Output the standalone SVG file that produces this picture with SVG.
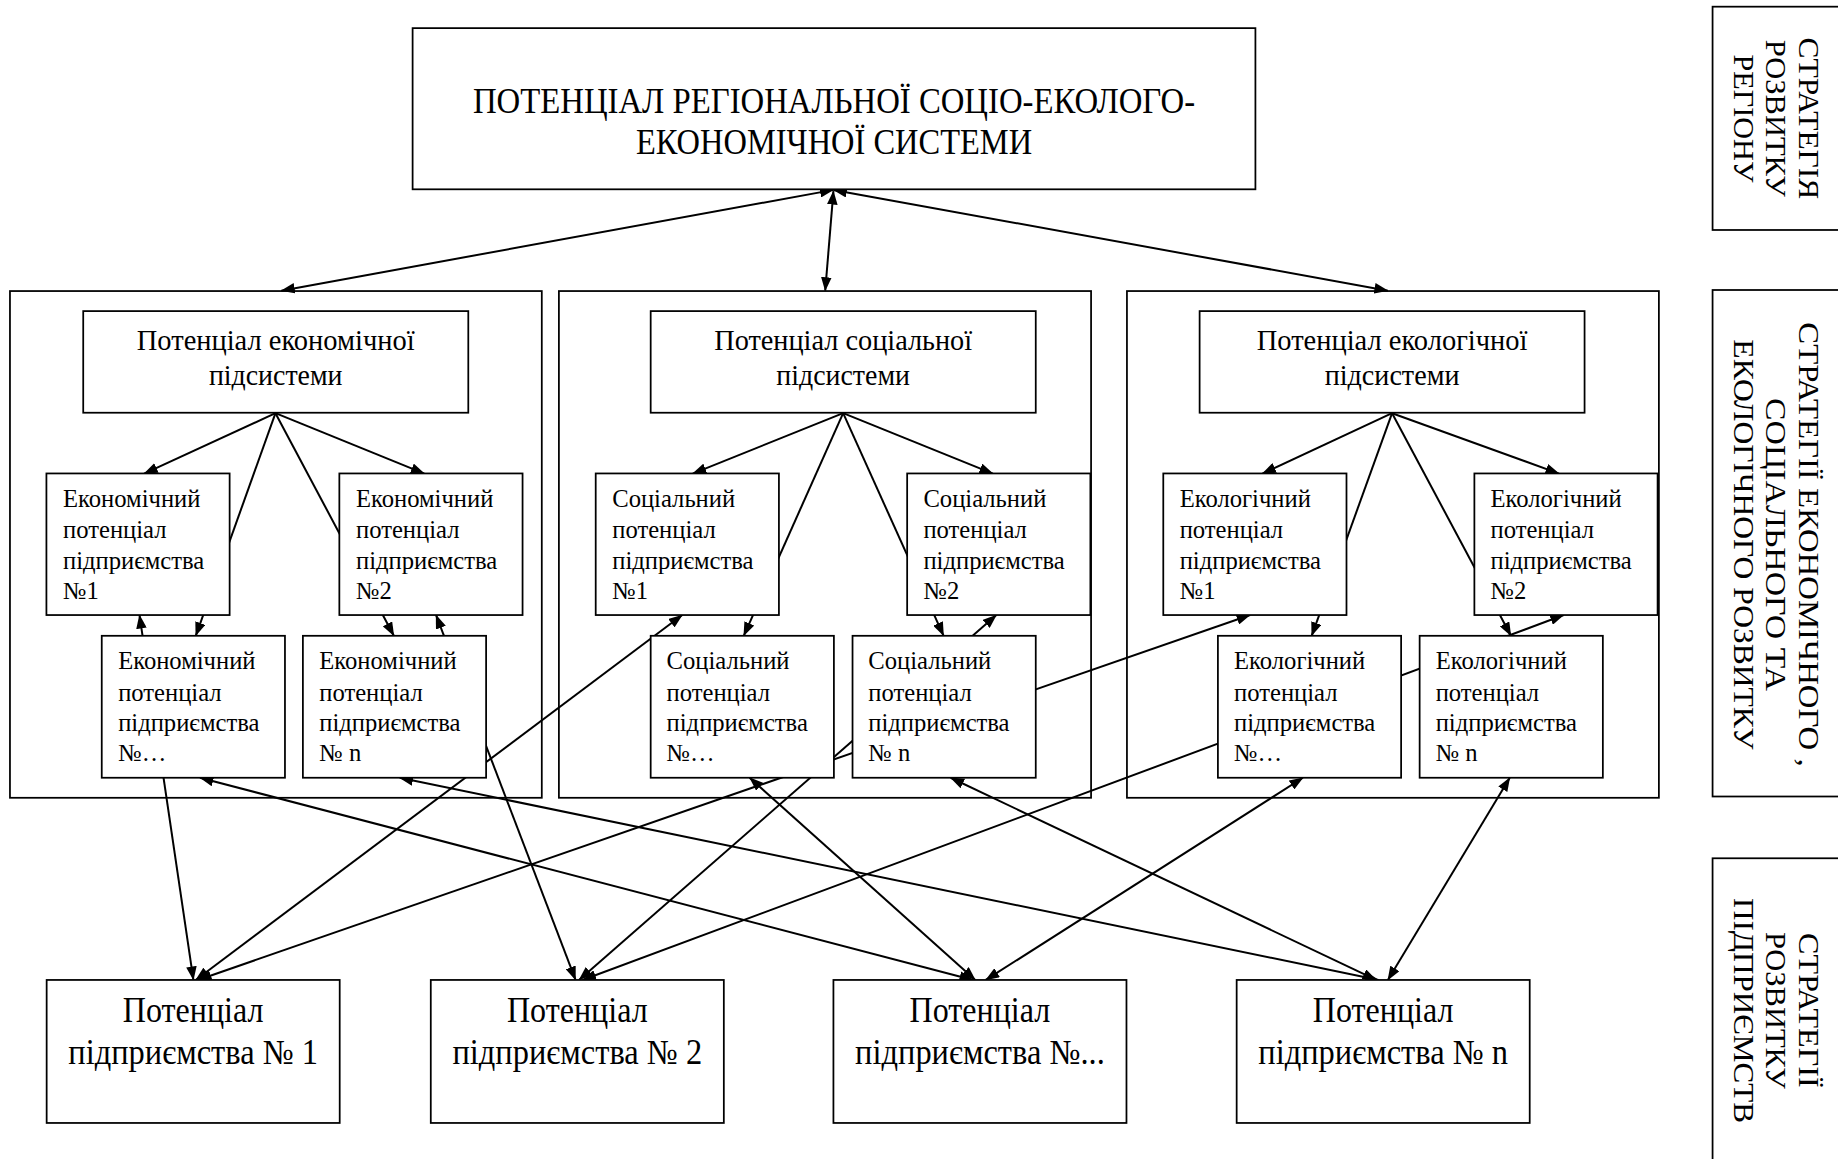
<svg xmlns="http://www.w3.org/2000/svg" width="1838" height="1159" viewBox="0 0 1838 1159">
<defs>
<style>
.frame{fill:none;stroke:#000;stroke-width:1.5}
.box{fill:#fff;stroke:#000;stroke-width:1.5}
.c line{fill:none;stroke:#000;stroke-width:1.7}
.a1{marker-end:url(#ah)}
.a2{marker-start:url(#ah);marker-end:url(#ah)}
text{font-family:"Liberation Serif","Times New Roman",serif;fill:#000}
.sm{font-size:21px}
.sub{font-size:25px;text-anchor:middle}
.big{font-size:30px;text-anchor:middle}
.title{font-size:30px;text-anchor:middle}
.st{font-size:25px;text-anchor:middle}
</style>
<marker id="ah" viewBox="0 0 12 9" refX="11.5" refY="4.5" markerWidth="12" markerHeight="9" markerUnits="userSpaceOnUse" orient="auto-start-reverse"><path d="M0,0 L12,4.5 L0,9 z" fill="#000"/></marker>
</defs>
<rect width="1838" height="1159" fill="#fff"/>
<g transform="scale(1.17219)">

<g id="strategy-region">
<rect class="frame" x="1461" y="5.7" width="130" height="190.5"/>
<text class="st" transform="translate(1535,101) rotate(90)" textLength="138" lengthAdjust="spacingAndGlyphs">СТРАТЕГІЯ</text>
<text class="st" transform="translate(1507,101) rotate(90)" textLength="134" lengthAdjust="spacingAndGlyphs">РОЗВИТКУ</text>
<text class="st" transform="translate(1479,101) rotate(90)" textLength="109" lengthAdjust="spacingAndGlyphs">РЕГІОНУ</text>
</g>
<g id="strategy-subsystems">
<rect class="frame" x="1461" y="247.4" width="130" height="432.1"/>
<text class="st" transform="translate(1535,464.5) rotate(90)" textLength="379" lengthAdjust="spacingAndGlyphs">СТРАТЕГІЇ ЕКОНОМІЧНОГО ,</text>
<text class="st" transform="translate(1507,464.5) rotate(90)" textLength="250" lengthAdjust="spacingAndGlyphs">СОЦІАЛЬНОГО ТА</text>
<text class="st" transform="translate(1479,464.5) rotate(90)" textLength="350" lengthAdjust="spacingAndGlyphs">ЕКОЛОГІЧНОГО РОЗВИТКУ</text>
</g>
<g id="strategy-enterprises">
<rect class="frame" x="1461" y="732.2" width="130" height="280"/>
<text class="st" transform="translate(1535,862) rotate(90)" textLength="132" lengthAdjust="spacingAndGlyphs">СТРАТЕГІЇ</text>
<text class="st" transform="translate(1507,862) rotate(90)" textLength="134" lengthAdjust="spacingAndGlyphs">РОЗВИТКУ</text>
<text class="st" transform="translate(1479,862) rotate(90)" textLength="192" lengthAdjust="spacingAndGlyphs">ПІДПРИЄМСТВ</text>
</g>

<g id="section-econ"><rect class="frame" x="8.5" y="248.3" width="453.7" height="432.3"/></g>
<g id="section-soc"><rect class="frame" x="476.8" y="248.3" width="454" height="432.3"/></g>
<g id="section-eco"><rect class="frame" x="961.4" y="248.3" width="453.8" height="432.3"/></g>

<g id="connectors" class="c">
<line class="a2" x1="711" y1="162" x2="240" y2="248"/>
<line class="a2" x1="711" y1="163" x2="704" y2="248"/>
<line class="a2" x1="711" y1="162" x2="1184" y2="248"/>

<line class="a1" x1="235" y1="352.5" x2="123" y2="404"/>
<line class="a1" x1="235" y1="352.5" x2="167" y2="542.4"/>
<line class="a1" x1="235" y1="352.5" x2="336" y2="542.4"/>
<line class="a1" x1="235" y1="352.5" x2="362" y2="404"/>

<line class="a1" x1="719.3" y1="352.5" x2="591" y2="404"/>
<line class="a1" x1="719.3" y1="352.5" x2="634.5" y2="542.4"/>
<line class="a1" x1="719.3" y1="352.5" x2="805" y2="542.4"/>
<line class="a1" x1="719.3" y1="352.5" x2="847" y2="404"/>

<line class="a1" x1="1187.6" y1="352.5" x2="1077" y2="404"/>
<line class="a1" x1="1187.6" y1="352.5" x2="1119" y2="542.4"/>
<line class="a1" x1="1187.6" y1="352.5" x2="1289" y2="542.4"/>
<line class="a1" x1="1187.6" y1="352.5" x2="1330" y2="404"/>

<line class="a2" x1="119" y1="524.7" x2="165" y2="836"/>
<line class="a2" x1="582" y1="524.7" x2="167" y2="836"/>
<line class="a2" x1="1066.5" y1="524.7" x2="169" y2="836"/>
<line class="a2" x1="372" y1="524.7" x2="491" y2="836"/>
<line class="a2" x1="850" y1="524.7" x2="494" y2="836"/>
<line class="a2" x1="1334" y1="524.7" x2="497" y2="836"/>
<line class="a2" x1="170.6" y1="663.5" x2="830" y2="836"/>
<line class="a2" x1="639.5" y1="663.5" x2="832" y2="836"/>
<line class="a2" x1="1111.5" y1="663.5" x2="841" y2="836"/>
<line class="a2" x1="341" y1="663.5" x2="1176" y2="836"/>
<line class="a2" x1="811" y1="663.5" x2="1174" y2="836"/>
<line class="a2" x1="1288" y1="663.5" x2="1184" y2="836"/>
</g>

<g id="region-potential">
<rect class="box" x="352" y="24" width="719" height="137.5"/>
<text class="title" x="711.5" y="96" textLength="616" lengthAdjust="spacingAndGlyphs">ПОТЕНЦІАЛ РЕГІОНАЛЬНОЇ СОЦІО-ЕКОЛОГО-</text>
<text class="title" x="711.5" y="131" textLength="338" lengthAdjust="spacingAndGlyphs">ЕКОНОМІЧНОЇ СИСТЕМИ</text>
</g>

<g id="econ-subsystem">
<rect class="box" x="71" y="265.4" width="328.5" height="86.7"/>
<text class="sub" x="235.2" y="298.6" textLength="237" lengthAdjust="spacingAndGlyphs">Потенціал економічної</text>
<text class="sub" x="235.2" y="328.5" textLength="114" lengthAdjust="spacingAndGlyphs">підсистеми</text>
</g>
<g id="soc-subsystem">
<rect class="box" x="555.1" y="265.4" width="328.5" height="86.7"/>
<text class="sub" x="719.3" y="298.6" textLength="220" lengthAdjust="spacingAndGlyphs">Потенціал соціальної</text>
<text class="sub" x="719.3" y="328.5" textLength="114" lengthAdjust="spacingAndGlyphs">підсистеми</text>
</g>
<g id="eco-subsystem">
<rect class="box" x="1023.4" y="265.4" width="328.4" height="86.7"/>
<text class="sub" x="1187.6" y="298.6" textLength="231" lengthAdjust="spacingAndGlyphs">Потенціал екологічної</text>
<text class="sub" x="1187.6" y="328.5" textLength="115" lengthAdjust="spacingAndGlyphs">підсистеми</text>
</g>

<g id="econ-1">
<rect class="box" x="39.6" y="403.9" width="156.3" height="120.8"/>
<text class="sm"><tspan x="53.8" y="432.6">Економічний</tspan><tspan x="53.8" y="459.2">потенціал</tspan><tspan x="53.8" y="485.5">підприємства</tspan><tspan x="53.8" y="511.1">№1</tspan></text>
</g>
<g id="econ-2">
<rect class="box" x="289.5" y="403.9" width="156.3" height="120.8"/>
<text class="sm"><tspan x="303.7" y="432.6">Економічний</tspan><tspan x="303.7" y="459.2">потенціал</tspan><tspan x="303.7" y="485.5">підприємства</tspan><tspan x="303.7" y="511.1">№2</tspan></text>
</g>
<g id="econ-etc">
<rect class="box" x="86.8" y="542.4" width="156.3" height="121.1"/>
<text class="sm"><tspan x="100.8" y="571.1">Економічний</tspan><tspan x="100.8" y="597.7">потенціал</tspan><tspan x="100.8" y="624">підприємства</tspan><tspan x="100.8" y="649.6">№…</tspan></text>
</g>
<g id="econ-n">
<rect class="box" x="258.4" y="542.4" width="156.3" height="121.1"/>
<text class="sm"><tspan x="272.4" y="571.1">Економічний</tspan><tspan x="272.4" y="597.7">потенціал</tspan><tspan x="272.4" y="624">підприємства</tspan><tspan x="272.4" y="649.6">№ n</tspan></text>
</g>

<g id="soc-1">
<rect class="box" x="508.2" y="403.9" width="156.3" height="120.8"/>
<text class="sm"><tspan x="522.3" y="432.6">Соціальний</tspan><tspan x="522.3" y="459.2">потенціал</tspan><tspan x="522.3" y="485.5">підприємства</tspan><tspan x="522.3" y="511.1">№1</tspan></text>
</g>
<g id="soc-2">
<rect class="box" x="773.9" y="403.9" width="156.3" height="120.8"/>
<text class="sm"><tspan x="787.8" y="432.6">Соціальний</tspan><tspan x="787.8" y="459.2">потенціал</tspan><tspan x="787.8" y="485.5">підприємства</tspan><tspan x="787.8" y="511.1">№2</tspan></text>
</g>
<g id="soc-etc">
<rect class="box" x="555.1" y="542.4" width="156.3" height="121.1"/>
<text class="sm"><tspan x="568.7" y="571.1">Соціальний</tspan><tspan x="568.7" y="597.7">потенціал</tspan><tspan x="568.7" y="624">підприємства</tspan><tspan x="568.7" y="649.6">№…</tspan></text>
</g>
<g id="soc-n">
<rect class="box" x="727.3" y="542.4" width="156.3" height="121.1"/>
<text class="sm"><tspan x="740.8" y="571.1">Соціальний</tspan><tspan x="740.8" y="597.7">потенціал</tspan><tspan x="740.8" y="624">підприємства</tspan><tspan x="740.8" y="649.6">№ n</tspan></text>
</g>

<g id="eco-1">
<rect class="box" x="992.4" y="403.9" width="156.3" height="120.8"/>
<text class="sm"><tspan x="1006.4" y="432.6">Екологічний</tspan><tspan x="1006.4" y="459.2">потенціал</tspan><tspan x="1006.4" y="485.5">підприємства</tspan><tspan x="1006.4" y="511.1">№1</tspan></text>
</g>
<g id="eco-2">
<rect class="box" x="1257.8" y="403.9" width="156.3" height="120.8"/>
<text class="sm"><tspan x="1271.6" y="432.6">Екологічний</tspan><tspan x="1271.6" y="459.2">потенціал</tspan><tspan x="1271.6" y="485.5">підприємства</tspan><tspan x="1271.6" y="511.1">№2</tspan></text>
</g>
<g id="eco-etc">
<rect class="box" x="1039" y="542.4" width="156.3" height="121.1"/>
<text class="sm"><tspan x="1052.8" y="571.1">Екологічний</tspan><tspan x="1052.8" y="597.7">потенціал</tspan><tspan x="1052.8" y="624">підприємства</tspan><tspan x="1052.8" y="649.6">№…</tspan></text>
</g>
<g id="eco-n">
<rect class="box" x="1211.1" y="542.4" width="156.3" height="121.1"/>
<text class="sm"><tspan x="1224.8" y="571.1">Екологічний</tspan><tspan x="1224.8" y="597.7">потенціал</tspan><tspan x="1224.8" y="624">підприємства</tspan><tspan x="1224.8" y="649.6">№ n</tspan></text>
</g>

<g id="enterprise-1">
<rect class="box" x="39.8" y="836" width="250" height="122"/>
<text class="big" x="164.8" y="872" textLength="120" lengthAdjust="spacingAndGlyphs">Потенціал</text>
<text class="big" x="164.8" y="908" textLength="213" lengthAdjust="spacingAndGlyphs">підприємства № 1</text>
</g>
<g id="enterprise-2">
<rect class="box" x="367.5" y="836" width="250" height="122"/>
<text class="big" x="492.5" y="872" textLength="120" lengthAdjust="spacingAndGlyphs">Потенціал</text>
<text class="big" x="492.5" y="908" textLength="213" lengthAdjust="spacingAndGlyphs">підприємства № 2</text>
</g>
<g id="enterprise-etc">
<rect class="box" x="711" y="836" width="250" height="122"/>
<text class="big" x="836" y="872" textLength="120" lengthAdjust="spacingAndGlyphs">Потенціал</text>
<text class="big" x="836" y="908" textLength="213" lengthAdjust="spacingAndGlyphs">підприємства №...</text>
</g>
<g id="enterprise-n">
<rect class="box" x="1055" y="836" width="250" height="122"/>
<text class="big" x="1180" y="872" textLength="120" lengthAdjust="spacingAndGlyphs">Потенціал</text>
<text class="big" x="1180" y="908" textLength="213" lengthAdjust="spacingAndGlyphs">підприємства № n</text>
</g>
</g>
</svg>
